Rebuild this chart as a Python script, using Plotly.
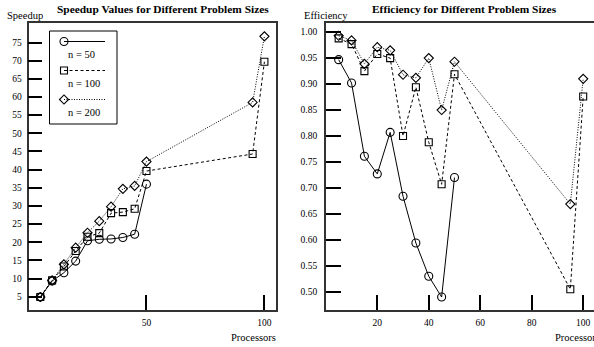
import plotly.graph_objects as go

# ---------------- data ----------------
procs_50 = [5, 10, 15, 20, 25, 30, 35, 40, 45, 50]
procs = [5, 10, 15, 20, 25, 30, 35, 40, 45, 50, 95, 100]

speedup_50 = [4.9, 9.3, 11.6, 14.8, 20.4, 20.8, 20.9, 21.3, 22.2, 36.0]
speedup_100 = [4.9, 9.5, 13.3, 17.6, 21.5, 22.5, 28.0, 28.3, 29.2, 39.6, 44.3, 69.7]
speedup_200 = [4.9, 9.5, 13.9, 18.5, 22.6, 25.8, 29.8, 34.7, 35.5, 42.2, 58.5, 76.7]

eff_50 = [0.947, 0.902, 0.761, 0.727, 0.807, 0.684, 0.594, 0.530, 0.490, 0.720]
eff_100 = [0.988, 0.977, 0.925, 0.958, 0.950, 0.800, 0.894, 0.788, 0.707, 0.919, 0.505, 0.876]
eff_200 = [0.993, 0.984, 0.939, 0.971, 0.965, 0.918, 0.912, 0.950, 0.850, 0.943, 0.669, 0.910]

series_names = ["n = 50", "n = 100", "n = 200"]
speedup_ticks = [5, 10, 15, 20, 25, 30, 35, 40, 45, 50, 55, 60, 65, 70, 75]
speedup_xticks = [50, 100]
eff_ticks = [0.50, 0.55, 0.60, 0.65, 0.70, 0.75, 0.80, 0.85, 0.90, 0.95, 1.00]
eff_xticks = [20, 40, 60, 80, 100]

W, H = 594, 347
FONT = "Liberation Serif, Times New Roman, serif"
INK = "#000000"
AX = "#333333"

styles = [
    dict(dash="solid", symbol="circle-open", size=8),
    dict(dash="3px,2.5px", symbol="square-open", size=7),
    dict(dash="1px,1.5px", symbol="diamond-open", size=7),
]

fig = go.Figure()

def add(x, y, st, xa, ya):
    fig.add_trace(go.Scatter(
        x=x, y=y, mode="lines+markers", xaxis=xa, yaxis=ya, showlegend=False,
        line=dict(color=INK, width=1, dash=st["dash"]),
        marker=dict(symbol=st["symbol"], size=st["size"], color=INK,
                    line=dict(color=INK, width=1.1)),
        cliponaxis=False,
    ))

add(procs_50, speedup_50, styles[0], "x", "y")
add(procs, speedup_100, styles[1], "x", "y")
add(procs, speedup_200, styles[2], "x", "y")
add(procs_50, eff_50, styles[0], "x2", "y2")
add(procs, eff_100, styles[1], "x2", "y2")
add(procs, eff_200, styles[2], "x2", "y2")

# ---- custom legend (pixel overlay axis) ----
leg_y = [41.5, 70.5, 99.5]
leg_text_y = [54, 83, 112]
for i, st in enumerate(styles):
    fig.add_trace(go.Scatter(
        x=[64, 105], y=[leg_y[i], leg_y[i]], mode="lines", xaxis="x3", yaxis="y3",
        showlegend=False, hoverinfo="skip",
        line=dict(color=INK, width=1, dash=st["dash"]),
    ))
    fig.add_trace(go.Scatter(
        x=[64], y=[leg_y[i]], mode="markers", xaxis="x3", yaxis="y3",
        showlegend=False, hoverinfo="skip",
        marker=dict(symbol=st["symbol"], size=st["size"], color=INK,
                    line=dict(color=INK, width=1.1)),
    ))
    fig.add_annotation(x=66, y=leg_text_y[i], xref="x3", yref="y3", text=series_names[i],
                       showarrow=False, xanchor="left", yanchor="middle",
                       font=dict(family=FONT, size=10.5, color=INK))

fig.add_shape(type="rect", xref="x3", yref="y3", x0=49.5, x1=117, y0=31, y1=124,
              line=dict(color=INK, width=1), fillcolor="rgba(0,0,0,0)")

def ydom(top_px, bot_px):
    return [1 - bot_px / H, 1 - top_px / H]

tickfont = dict(family=FONT, size=9.5, color=INK)

fig.update_layout(
    width=W, height=H,
    margin=dict(l=0, r=0, t=0, b=0),
    paper_bgcolor="white", plot_bgcolor="rgba(0,0,0,0)",
    font=dict(family=FONT, color=INK),
    xaxis=dict(domain=[28.5 / W, 275.5 / W], range=[0, 104.7], anchor="y",
               tickvals=speedup_xticks, ticks="inside", ticklen=15, tickwidth=1.5,
               tickcolor=INK, showline=True, linecolor=AX, linewidth=1.5, mirror=True,
               showgrid=False, zeroline=False, tickfont=tickfont, ticklabelstandoff=3),
    yaxis=dict(domain=ydom(23.3, 310), range=[1.33, 80.3], anchor="x",
               tickvals=speedup_ticks, ticks="inside", ticklen=14, tickwidth=1.5,
               tickcolor=INK, showline=True, linecolor=AX, linewidth=1.5, mirror=True,
               showgrid=False, zeroline=False, tickfont=tickfont, ticklabelstandoff=3),
    xaxis2=dict(domain=[325.8 / W, 1.0], range=[0, 104.2], anchor="y2",
                tickvals=eff_xticks, ticks="inside", ticklen=15, tickwidth=1.5,
                tickcolor=INK, showline=True, linecolor=AX, linewidth=1.5, mirror=True,
                showgrid=False, zeroline=False, tickfont=tickfont, ticklabelstandoff=3),
    yaxis2=dict(domain=ydom(23.3, 310), range=[0.465, 1.017], anchor="x2",
                tickvals=eff_ticks, tickformat=".2f", ticks="inside", ticklen=15,
                tickwidth=1.5, tickcolor=INK, showline=True, linecolor=AX,
                linewidth=1.5, mirror=False, showgrid=False, zeroline=False,
                tickfont=tickfont, ticklabelstandoff=5),
    xaxis3=dict(domain=[0, 1], range=[0, W], visible=False, fixedrange=True,
                anchor="y3"),
    yaxis3=dict(domain=[0, 1], range=[H, 0], visible=False, fixedrange=True,
                anchor="x3"),
)

def ann(x, y, text, size, bold=False, anchor="center"):
    fig.add_annotation(x=x, y=y, xref="x3", yref="y3",
                       text=f"<b>{text}</b>" if bold else text, showarrow=False,
                       xanchor=anchor, yanchor="middle",
                       font=dict(family=FONT, size=size, color=INK))

ann(163, 9, "Speedup Values for Different Problem Sizes", 11.4, bold=True)
ann(464, 9, "Efficiency for Different Problem Sizes", 11.4, bold=True)
ann(5, 15, "Speedup", 10.5, anchor="left")
ann(302, 15, "Efficiency", 10.5, anchor="left")
ann(278, 337, "Processors", 10.5, anchor="right")
ann(553, 337, "Processors", 10.5, anchor="left")

fig.write_html(
    "out.html",
    config={"displayModeBar": False},
    post_script="document.body.style.margin='0';document.body.style.padding='0';"
                "document.body.style.overflow='hidden';",
)
